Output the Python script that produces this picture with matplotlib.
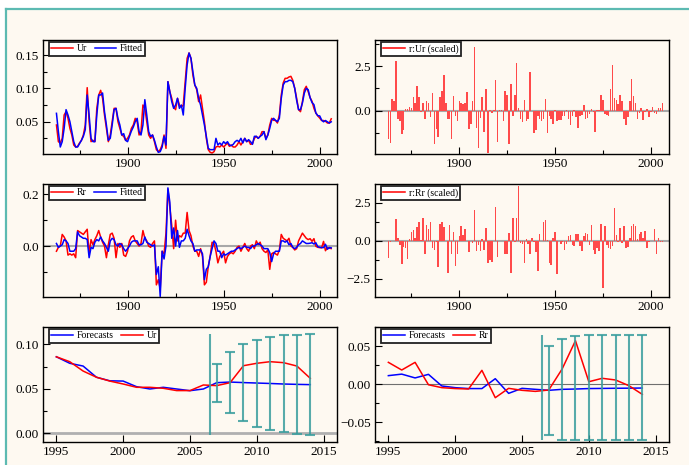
#!/usr/bin/env python3

import numpy as np
import matplotlib
matplotlib.use('Agg')
import matplotlib.pyplot as plt
from matplotlib.lines import Line2D
from matplotlib.patches import Rectangle
from matplotlib.ticker import MultipleLocator

plt.rcParams['font.family'] = ['Liberation Serif', 'DejaVu Serif']

start_year = 1863

ur = [0.045, 0.02, 0.018, 0.025, 0.06, 0.065, 0.055, 0.04, 0.03, 0.015,
      0.012, 0.013, 0.018, 0.022, 0.03, 0.045, 0.101, 0.05, 0.02, 0.022,
      0.02, 0.07, 0.09, 0.097, 0.085, 0.06, 0.04, 0.02, 0.03, 0.05,
      0.07, 0.07, 0.05, 0.04, 0.03, 0.028, 0.022, 0.025, 0.03, 0.04,
      0.045, 0.055, 0.05, 0.03, 0.035, 0.075, 0.07, 0.05, 0.03, 0.025,
      0.03, 0.02, 0.008, 0.005, 0.008, 0.015, 0.03, 0.01, 0.11, 0.095,
      0.085, 0.072, 0.068, 0.085, 0.075, 0.072, 0.075, 0.11, 0.145, 0.153,
      0.145, 0.12, 0.105, 0.098, 0.08, 0.09, 0.07, 0.05, 0.025, 0.008,
      0.004, 0.003, 0.005, 0.012, 0.013, 0.012, 0.015, 0.012, 0.015, 0.018,
      0.013, 0.015, 0.012, 0.012, 0.015, 0.02, 0.015, 0.02, 0.025, 0.02,
      0.022, 0.016, 0.017, 0.025, 0.028, 0.025, 0.028, 0.035, 0.035, 0.025,
      0.03, 0.045, 0.055, 0.052, 0.052, 0.048, 0.06, 0.09, 0.108, 0.115,
      0.115, 0.117, 0.118, 0.112, 0.1, 0.085, 0.068, 0.065, 0.08, 0.098,
      0.103, 0.095, 0.086, 0.0805, 0.070, 0.063, 0.0587, 0.0554, 0.0517, 0.0517,
      0.0506, 0.048, 0.048, 0.0543]

ur_fit = [0.0625, 0.035, 0.012, 0.02, 0.04, 0.068, 0.06, 0.05, 0.035, 0.02,
          0.012, 0.012, 0.017, 0.022, 0.028, 0.038, 0.09, 0.06, 0.025, 0.02,
          0.02, 0.06, 0.09, 0.09, 0.093, 0.065, 0.045, 0.022, 0.025, 0.045,
          0.068, 0.07, 0.055, 0.045, 0.03, 0.032, 0.022, 0.02, 0.028, 0.036,
          0.042, 0.05, 0.055, 0.035, 0.03, 0.045, 0.083, 0.06, 0.035, 0.028,
          0.03, 0.022, 0.012, 0.004, 0.005, 0.012, 0.028, 0.015, 0.11, 0.095,
          0.08, 0.07, 0.075, 0.085, 0.07, 0.075, 0.06, 0.1, 0.135, 0.153,
          0.145, 0.125, 0.105, 0.1, 0.085, 0.075, 0.06, 0.045, 0.028, 0.01,
          0.008, 0.008, 0.008, 0.025, 0.015, 0.018, 0.015, 0.02, 0.017, 0.02,
          0.015, 0.014, 0.016, 0.02, 0.022, 0.02, 0.025, 0.018, 0.025, 0.02,
          0.023, 0.02, 0.016, 0.028, 0.028, 0.025, 0.028, 0.03, 0.035, 0.023,
          0.03, 0.04, 0.052, 0.055, 0.052, 0.05, 0.055, 0.085, 0.105, 0.11,
          0.11, 0.112, 0.112, 0.11, 0.1, 0.082, 0.068, 0.068, 0.078, 0.093,
          0.1, 0.098, 0.086, 0.0787, 0.0756, 0.063, 0.059, 0.0587, 0.0524, 0.0498,
          0.0517, 0.0498, 0.0479, 0.0498]

ur_resid = [-1.6, -1.85, 0.65, 0.55, 2.8, -0.5, -0.6, -1.3, -1.1, 0.1,
            0.1, 0.2, 0.15, 0.75, 0.4, 1.4, 0.75, -0.1, 0.45, -0.5,
            0.55, 0.45, -0.35, 1.0, -1.9, -1.05, -1.5, 0.75, 1.1, 2.0,
            0.45, -0.5, -0.45, -1.6, 0.8, -0.3, -0.6, 0.55, 0.45, 0.35,
            0.45, 1.05, -1.05, -0.75, 0.55, 3.6, -1.0, -2.1, -0.4, 0.75,
            -1.2, 1.2, -2.4, 0.05, -0.15, 0.05, 1.75, -1.8, 0.05, 0.05,
            -0.6, 1.1, 0.85, -1.9, 1.5, -0.3, 0.85, 2.7, 0.15, -0.5,
            -0.65, 0.6, -0.6, -0.5, 2.15, -0.05, -1.25, -1.1, -0.3, -0.5,
            -0.6, -0.5, 0.65, -1.25, -0.3, -0.45, -0.75, 0.05, -0.6, -0.55,
            -0.55, -0.3, -0.3, 0.05, -0.5, -0.8, -0.3, 0.05, -0.35, -1.0,
            -0.3, -0.25, 0.3, -0.45, -0.4, -0.2, 0.1, -0.1, -1.2, 0.05,
            0.05, 0.85, 0.6, -0.2, -0.25, -0.3, 1.2, 2.55, 0.7, 0.6,
            0.35, 0.9, 0.55, -0.5, -0.8, -0.35, 0.55, 1.8, 0.8, 0.45,
            -0.45, -0.15, 0.15, -0.55, -0.1, 0.1, -0.35, -0.1, 0.2, -0.15,
            -0.2, 0.15, 0.15, 0.45]

rr = [-0.02, -0.005, 0.0, 0.045, 0.035, 0.02, -0.035, -0.03, -0.035, -0.03,
      -0.045, 0.06, 0.055, 0.05, 0.045, 0.055, 0.065, -0.03, 0.025, 0.005,
      0.025, 0.04, 0.06, 0.035, 0.015, 0.0, -0.045, 0.005, 0.045, 0.05,
      0.03, -0.045, 0.01, -0.005, 0.01, -0.035, -0.04, -0.02, 0.02, 0.035,
      0.04, 0.02, 0.01, 0.0, 0.01, 0.06, 0.03, 0.02, 0.0, -0.005,
      0.01, 0.02, -0.15, -0.13, -0.165, -0.02, -0.03, 0.05, 0.22, 0.15,
      0.08, -0.01, 0.1, 0.02, 0.04, 0.035, 0.05, 0.05, 0.13, 0.06,
      0.04, 0.0, -0.02, -0.02, -0.04, -0.01, -0.04, -0.15, -0.14, -0.08,
      -0.04, 0.015, 0.01, -0.02, -0.065, -0.04, -0.03, -0.02, -0.065, -0.04,
      -0.03, -0.025, -0.03, -0.02, -0.005, 0.0, -0.02, -0.005, 0.01, -0.01,
      -0.02, 0.0, 0.005, -0.01, 0.02, 0.005, 0.015, -0.01, -0.02, -0.025,
      -0.015, -0.09, -0.03, -0.025, -0.03, -0.035, -0.015, 0.045, 0.03, 0.025,
      0.02, 0.03, 0.0, -0.005, -0.015, -0.01, 0.02, 0.035, 0.05, 0.04,
      0.03, 0.025, 0.0285, 0.0184, 0.0285, -0.001, -0.0048, -0.006, -0.0066, 0.018,
      -0.018, -0.0057, -0.0083, -0.0097]

rr_fit = [0.01, -0.005, 0.0, 0.005, 0.025, 0.02, 0.01, -0.02, -0.02, -0.02,
          -0.01, 0.055, 0.04, 0.035, 0.03, 0.03, 0.025, -0.045, -0.005, -0.01,
          0.015, 0.025, 0.02, 0.035, 0.02, 0.01, -0.005, -0.02, 0.02, 0.03,
          0.025, 0.005, 0.0, 0.01, 0.005, -0.01, -0.02, -0.01, 0.0, 0.015,
          0.02, 0.02, 0.02, 0.005, 0.005, 0.01, 0.035, 0.015, 0.01, 0.005,
          0.0, 0.005, -0.11, -0.08, -0.195, -0.02, -0.05, 0.0, 0.225, 0.17,
          0.03, 0.07, 0.0, 0.06, -0.005, 0.02, 0.02, 0.03, 0.065, 0.04,
          0.02, 0.01, -0.02, -0.015, -0.015, -0.015, -0.03, -0.13, -0.09, -0.08,
          -0.04, -0.01, 0.02, 0.01, -0.02, -0.02, -0.045, -0.03, -0.035, -0.03,
          -0.025, -0.02, -0.02, -0.015, -0.01, -0.005, -0.01, -0.005, 0.0, -0.005,
          -0.005, -0.01, 0.0, 0.0, 0.005, 0.01, 0.005, 0.0, -0.01, -0.01,
          -0.01, -0.025, -0.06, -0.03, -0.02, -0.02, -0.02, 0.02, 0.02, 0.015,
          0.02, 0.005, 0.01, -0.005, -0.01, -0.005, 0.005, 0.01, 0.02, 0.015,
          0.01, 0.01, 0.011, 0.013, 0.008, 0.0127, -0.0026, -0.0048, -0.006, -0.006,
          0.007, -0.0123, -0.0057, -0.007]

rr_resid = [-1.15, -0.1, -0.05, 0.0, 1.45, 0.2, -0.3, -1.55, -0.4, -0.45,
            -1.2, 0.1, 0.6, 0.7, 0.15, 0.9, 1.2, 0.05, 1.5, -0.85,
            1.05, 0.75, 1.25, -0.5, -0.6, -0.1, -1.75, 1.1, 1.2, 0.9,
            -0.05, -2.15, 1.05, -0.85, 0.55, -1.65, -0.9, 0.3, 0.95, 0.4,
            0.75, 0.0, -0.75, -0.05, -0.15, 2.0, -0.65, -0.3, -0.65, 0.1,
            -0.6, 0.85, -1.45, -1.3, -1.4, 0.0, 2.2, -1.1, 0.0, 0.0,
            -0.05, -0.9, -0.85, 0.5, -2.1, 1.5, -0.1, 1.5, 3.6, -0.15,
            -0.2, -1.45, 0.1, -0.2, -0.9, 0.15, -0.1, -0.75, -2.0, 0.45,
            0.0, 1.2, 1.35, 0.05, -1.45, -1.6, 0.15, 0.6, -2.2, 0.0,
            -0.2, -0.1, -0.6, -0.2, 0.3, 0.4, -0.3, -0.35, 0.45, 0.45,
            -0.35, -0.65, 0.3, 0.5, 0.45, -0.3, 1.05, -0.6, -0.85, -0.5,
            -0.7, 1.1, -3.1, 0.95, -0.3, -0.45, -0.55, -0.35, 2.15, 0.35,
            -0.1, 0.85, -0.15, 0.95, -0.5, -0.4, 0.2, 0.95, 1.1, 1.0,
            0.1, 0.45, 0.55, 0.15, 0.65, -0.45, -0.1, -0.05, -0.05, 0.8,
            -0.85, 0.2, -0.1, -0.1]

years = np.arange(start_year, start_year + len(ur))
for s in (ur_fit, ur_resid, rr, rr_fit, rr_resid):
  assert len(s) == len(ur), len(s)

# forecast panels, 1995 - 2014
fc_years = list(range(1995, 2015))
ur_actual = [0.086, 0.0805, 0.070, 0.063, 0.0587, 0.0554, 0.0517, 0.0517, 0.0506, 0.048,
             0.048, 0.0543, 0.0536, 0.0569, 0.076, 0.0787, 0.0805, 0.0794, 0.0756, 0.0618]
ur_fc = [0.086, 0.0787, 0.0756, 0.063, 0.059, 0.0587, 0.0524, 0.0498, 0.0517, 0.0498,
         0.0479, 0.0498, 0.0569, 0.0576, 0.057, 0.0565, 0.056, 0.0554, 0.055, 0.0547]
rr_actual = [0.0285, 0.0184, 0.0285, -0.001, -0.0048, -0.006, -0.0066, 0.018, -0.018, -0.0057,
             -0.0083, -0.0097, -0.0079, 0.0197, 0.057, 0.003, 0.0075, 0.0053, -0.0022, -0.0136]
rr_fc = [0.011, 0.013, 0.008, 0.0127, -0.0026, -0.0048, -0.006, -0.006, 0.007, -0.0123,
         -0.0057, -0.007, -0.0083, -0.007, -0.0066, -0.006, -0.0058, -0.0056, -0.0055, -0.0053]

band_years = list(range(2007, 2015))
ur_band_hi = [0.0779, 0.091, 0.100, 0.1048, 0.1079, 0.110, 0.1108, 0.1116]
ur_band_lo = [0.0352, 0.0225, 0.0138, 0.0075, 0.0037, 0.0015, -0.0008, -0.0022]
rr_band_hi = [0.0504, 0.059, 0.0627, 0.064, 0.064, 0.064, 0.064, 0.064]
rr_band_lo = [-0.067, -0.0737, -0.0737, -0.0737, -0.0737, -0.0737, -0.0737, -0.0737]

BG = '#fef9f1'
TEAL = '#5cbab2'
BAND = '#3a9e9e'
W, H = 689, 465


def add_panel(fig, x0, y0, x1, y1):
  ax = fig.add_axes([x0 / W, 1 - y1 / H, (x1 - x0) / W, (y1 - y0) / H])
  ax.set_facecolor(BG)
  for side in ax.spines:
    ax.spines[side].set_linewidth(1.0)
  ax.tick_params(which='both', direction='in', top=False, right=False,
                 labelsize=9.5, pad=3)
  ax.tick_params(which='major', length=5, width=0.8)
  ax.tick_params(which='minor', length=3, width=0.8)
  return ax


def legend(ax, w_px):
  leg = ax.legend(loc='upper left', bbox_to_anchor=(6 / w_px, 0.985),
                  borderaxespad=0, ncol=2, fontsize=7, handlelength=2.2,
                  handletextpad=0.4, columnspacing=0.8, borderpad=0.25,
                  fancybox=False, framealpha=1, edgecolor='#222222')
  leg.get_frame().set_linewidth(1.3)
  leg.get_frame().set_facecolor('white')


def plot_fit(ax, y, fit, name, ylim, major, minor):
  ax.plot(years, y, color='red', lw=1.1, label=name)
  ax.plot(years, fit, color='blue', lw=1.1, label='Fitted')
  ax.set_xlim(1856, 2009)
  ax.set_ylim(*ylim)
  ax.xaxis.set_major_locator(MultipleLocator(50))
  ax.xaxis.set_minor_locator(MultipleLocator(25))
  ax.yaxis.set_major_locator(MultipleLocator(major))
  ax.yaxis.set_minor_locator(MultipleLocator(minor))


def plot_resid(ax, r, name, ylim):
  ax.axhline(0, color='#a8a8a8', lw=1.5, zorder=1)
  ax.bar(years, r, width=0.8, color='#ff4a4a', lw=0, zorder=2)
  ax.plot([], [], color='red', lw=1.1, label=name)
  ax.set_xlim(1856, 2009.5)
  ax.set_ylim(*ylim)
  ax.xaxis.set_major_locator(MultipleLocator(50))
  ax.xaxis.set_minor_locator(MultipleLocator(25))
  ax.yaxis.set_major_locator(MultipleLocator(2.5))
  ax.yaxis.set_minor_locator(MultipleLocator(1.25))


def plot_forecast(ax, actual, fc, hi, lo, name, ylim, zero_style):
  ax.axhline(0, zorder=1, **zero_style)
  ax.plot(fc_years, fc, color='blue', lw=1.1, label='Forecasts')
  ax.plot(fc_years, actual, color='red', lw=1.1, label=name)
  centre = [(h + l) / 2 for h, l in zip(hi, lo)]
  err = [[c - l for c, l in zip(centre, lo)], [h - c for c, h in zip(centre, hi)]]
  ax.errorbar(band_years, centre, yerr=err, fmt='none', ecolor=BAND,
              elinewidth=1.5, capsize=3.5, capthick=1.5, alpha=0.85, zorder=3)
  ax.vlines(2006.5, min(lo), max(hi), color=BAND, lw=1.5, alpha=0.85, zorder=3)
  ax.set_xlim(1994, 2016)
  ax.set_ylim(*ylim)
  ax.xaxis.set_major_locator(MultipleLocator(5))
  ax.yaxis.set_major_locator(MultipleLocator(0.05))
  ax.yaxis.set_minor_locator(MultipleLocator(0.025))


def main():
  fig = plt.figure(figsize=(W / 100, H / 100), dpi=100)
  fig.patch.set_facecolor(BG)

  # white margin with teal border lines
  fig.add_artist(Rectangle((0, 1 - 9 / H), 1, 9 / H, transform=fig.transFigure,
                           facecolor='white', edgecolor='none'))
  fig.add_artist(Rectangle((0, 0), 6 / W, 1, transform=fig.transFigure,
                           facecolor='white', edgecolor='none'))
  fig.add_artist(Line2D([6 / W, 1], [1 - 9 / H, 1 - 9 / H], color=TEAL, lw=1.6,
                        transform=fig.transFigure))
  fig.add_artist(Line2D([6 / W, 6 / W], [0, 1 - 9 / H], color=TEAL, lw=1.6,
                        transform=fig.transFigure))

  ax = add_panel(fig, 43, 40, 337, 154)
  plot_fit(ax, ur, ur_fit, 'Ur', (0.0015, 0.1725), 0.05, 0.025)
  legend(ax, 294)

  ax = add_panel(fig, 375, 40, 669, 154)
  plot_resid(ax, ur_resid, 'r:Ur (scaled)', (-2.45, 3.98))
  legend(ax, 294)

  ax = add_panel(fig, 43, 184, 337, 297)
  ax.axhline(0, color='#a8a8a8', lw=1.5, zorder=1)
  plot_fit(ax, rr, rr_fit, 'Rr', (-0.197, 0.24), 0.2, 0.1)
  legend(ax, 294)

  ax = add_panel(fig, 375, 184, 669, 297)
  plot_resid(ax, rr_resid, 'r:Rr (scaled)', (-3.7, 3.73))
  legend(ax, 294)

  ax = add_panel(fig, 43, 327, 337, 442)
  plot_forecast(ax, ur_actual, ur_fc, ur_band_hi, ur_band_lo, 'Ur', (-0.0098, 0.1195),
                dict(color='#b0b0b0', lw=2))
  legend(ax, 294)

  ax = add_panel(fig, 375, 327, 669, 442)
  plot_forecast(ax, rr_actual, rr_fc, rr_band_hi, rr_band_lo, 'Rr', (-0.0763, 0.075),
                dict(color='#707070', lw=0.8))
  legend(ax, 294)

  plt.savefig('out.png', dpi=100, facecolor=fig.get_facecolor())


if __name__ == '__main__':
  main()
